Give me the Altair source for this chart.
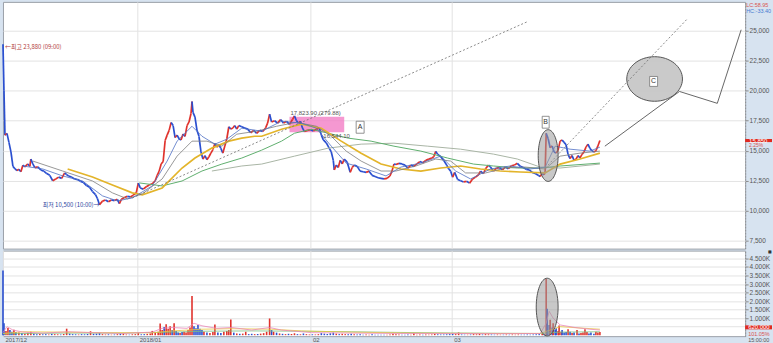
import altair as alt
import pandas as pd

W, H_PRICE, H_VOL = 746, 248, 86
RED, BLUE = "#e0322c", "#2a4fd0"

# ---------------- data ----------------
month_pos = [0, 135, 309, 451]
month_labels = ["2017/12", "2018/01", "02", "03"]
price_ticks = [7500, 10000, 12500, 15000, 17500, 20000, 22500, 25000]
vol_ticks = [500, 1000, 1500, 2000, 2500, 3000, 3500, 4000, 4500]

# (bar index, close price)
price_pts = [
    (0, 23880), (1, 20000), (2, 16300), (4, 16450), (6, 15700), (8, 14900), (10, 13700), (12, 13500),
    (14, 13350), (16, 13450), (18, 13250), (20, 13800), (22, 13650), (25, 13900), (27, 13700), (28, 14300),
    (30, 13900), (32, 13600), (35, 13650), (38, 13400), (41, 13300), (44, 13100), (47, 12950), (50, 12500),
    (53, 12650), (56, 12800), (59, 12700), (62, 13150), (64, 13000), (66, 12900), (69, 12800), (72, 12650),
    (75, 12600), (78, 12450), (81, 12350), (84, 12100), (87, 11950), (90, 11600), (93, 11350), (95, 11000),
    (97, 10500), (100, 10800), (103, 10900), (106, 10750), (109, 10900), (112, 10850), (115, 10950),
    (117, 10600), (119, 10950), (122, 11100), (125, 11200), (128, 11150), (131, 11300), (134, 11500),
    (136, 12300), (138, 11900), (141, 11800), (144, 12000), (147, 12150), (150, 12250), (153, 12500),
    (155, 12950), (157, 13300), (159, 13900), (161, 14100), (163, 15850), (165, 16300), (167, 16700),
    (169, 17350), (171, 17100), (173, 16100), (175, 16300), (177, 16000), (179, 15900), (181, 16400),
    (183, 16200), (185, 17100), (187, 17400), (189, 18100), (190, 19100), (191, 18200), (193, 17800),
    (195, 16700), (197, 16200), (199, 14900), (201, 14300), (203, 14600), (205, 14250), (207, 14500),
    (209, 14800), (211, 15100), (213, 15600), (215, 15300), (217, 15500), (219, 15200), (221, 14800),
    (223, 15400), (225, 16000), (227, 17000), (229, 16800), (231, 16900), (233, 17100), (235, 16800),
    (237, 17100), (240, 17000), (243, 16900), (246, 16800), (249, 16500), (252, 16700), (255, 16450),
    (258, 16700), (261, 16600), (264, 16900), (266, 17300), (268, 18050), (270, 17400), (273, 17500),
    (276, 17300), (279, 17600), (282, 17300), (285, 17450), (288, 17200), (291, 17600), (293, 17900),
    (295, 17500), (297, 17300), (299, 17450), (301, 16900), (303, 16600), (306, 16700), (309, 16750),
    (312, 16650), (315, 16800), (318, 16900), (320, 16300), (322, 15900), (325, 15650), (328, 15200),
    (330, 14900), (332, 14200), (333, 13400), (335, 13800), (337, 13600), (339, 14200), (341, 13900),
    (343, 14300), (346, 14050), (349, 13200), (351, 13600), (353, 13800), (356, 13700), (359, 13300),
    (362, 13250), (365, 13200), (368, 13300), (371, 12950), (374, 12850), (377, 12750), (380, 12700),
    (383, 12650), (386, 12700), (389, 12900), (391, 13300), (393, 13900), (395, 13850), (398, 13950),
    (401, 13900), (404, 13800), (407, 13550), (410, 13800), (413, 13700), (416, 13900), (419, 14100),
    (422, 14000), (425, 14200), (428, 14300), (431, 14400), (433, 14500), (435, 14950), (437, 14700),
    (440, 14500), (443, 14200), (446, 13800), (448, 13500), (450, 13300), (452, 12800), (454, 13200),
    (457, 12600), (460, 12500), (463, 12400), (466, 12450), (469, 12300), (472, 12650), (475, 12800),
    (478, 13000), (480, 13300), (483, 13100), (485, 13500), (488, 13800), (490, 13650), (493, 13300),
    (496, 13550), (499, 13600), (502, 13400), (505, 13650), (508, 13500), (511, 13750), (514, 13800),
    (517, 13950), (520, 13700), (523, 13600), (526, 13450), (529, 13400), (532, 13200), (535, 13100),
    (538, 12950), (540, 12850), (542, 13100), (544, 13000), (545, 13300), (546, 16450), (548, 16000),
    (550, 15250), (552, 15400), (554, 14900), (556, 14800), (558, 15050), (560, 15800), (562, 15900),
    (564, 15700), (566, 15500), (568, 14700), (570, 14350), (572, 14600), (574, 14200), (576, 14300),
    (578, 14600), (580, 14400), (582, 14700), (584, 14900), (586, 15300), (588, 15550), (590, 15200),
    (592, 15000), (594, 14900), (596, 15000), (598, 15400), (600, 15850),
]

# moving averages of price (bar index, price)
ma_blue = [(20, 13730), (40, 13480), (60, 12900), (80, 12480), (100, 11240), (115, 10820), (130, 11070),
           (150, 12070), (165, 14140), (175, 15800), (190, 17040), (200, 16210), (213, 15550), (225, 15960),
           (240, 16880), (260, 16630), (280, 17460), (300, 17290), (315, 16880), (330, 15380), (345, 13970),
           (365, 13480), (385, 12900), (400, 13640), (420, 13970), (440, 14550), (455, 13310), (470, 12650),
           (490, 13480), (510, 13730), (530, 13480), (545, 13640), (555, 15380), (570, 15130), (590, 14970),
           (600, 15300)]
ma_dark = [(30, 14140), (60, 13310), (90, 12480), (110, 11490), (125, 10990), (140, 11400), (160, 12650),
           (175, 14550), (190, 15800), (205, 15800), (220, 15380), (235, 16380), (255, 16630), (275, 17040),
           (295, 17370), (315, 17040), (330, 16210), (345, 14970), (360, 14140), (380, 13310), (395, 13310),
           (415, 13730), (435, 14310), (450, 14140), (465, 13150), (485, 13150), (505, 13560), (525, 13640),
           (545, 13480), (560, 14550), (580, 14800), (600, 14970)]
ma_gold = [(65, 13480), (90, 12810), (110, 12150), (130, 11490), (140, 11320), (160, 11900), (180, 13560),
           (193, 14390), (210, 15220), (227, 15800), (240, 16050), (253, 16210), (260, 16210), (280, 16790),
           (300, 17210), (320, 16880), (340, 15800), (360, 14800), (380, 13890), (400, 13480), (420, 13310),
           (440, 13560), (460, 13730), (480, 13480), (500, 13310), (520, 13230), (545, 13150), (560, 13890),
           (580, 14310), (600, 14800)]
ma_green = [(137, 12320), (160, 12070), (180, 12480), (200, 13310), (220, 13890), (240, 14390), (260, 15050),
            (280, 15800), (293, 16460), (310, 16790), (327, 16460), (347, 16050), (370, 15800), (393, 15380),
            (420, 14970), (447, 14390), (473, 13890), (493, 13730), (517, 13560), (540, 13560), (560, 13730),
            (600, 13970)]
ma_gray = [(210, 13310), (240, 13730), (260, 13890), (293, 14550), (327, 15220), (360, 15550), (393, 15630),
           (427, 15380), (460, 15130), (493, 14720), (517, 14310), (540, 13640), (560, 13560), (600, 13890)]

# drawn trend lines (bar index, price)
trend_dotted_1 = [(130, 11070), (527, 25750)]
trend_dotted_2 = [(545, 13560), (688, 26000)]
trend_solid = [(605, 15380), (680, 19940), (718, 18950), (742, 25080)]

# zone A (x from, x to, upper price, lower price)
zone_a = [(288, 343, 17823.90, 16544.10)]
# label boxes (letter, x from, x to, upper price, lower price)
letter_boxes = [("A", 355, 363, 17460, 16460), ("B", 542, 549, 17870, 16880), ("C", 650, 658, 21190, 20360)]
# ellipses (x, value)
ellipse_b_price = [(548, 14600)]
ellipse_c_price = [(655, 20980)]
ellipse_b_vol = [(547, 1650)]

# volume in thousands (bar index, volume K, direction)
vol_bars = [
    (0, 3800, 'd'), (1, 700, 'd'), (3, 250, 'u'), (5, 420, 'u'), (7, 300, 'd'), (9, 200, 'd'), (11, 320, 'u'),
    (13, 180, 'd'), (16, 150, 'u'), (19, 120, 'd'), (22, 90, 'u'), (25, 140, 'u'), (28, 200, 'u'), (31, 80, 'd'),
    (34, 60, 'd'), (37, 70, 'u'), (40, 50, 'd'), (43, 60, 'd'), (46, 40, 'u'), (49, 80, 'd'), (52, 60, 'u'),
    (55, 50, 'u'), (58, 40, 'd'), (61, 70, 'u'), (64, 380, 'u'), (67, 90, 'd'), (70, 60, 'd'), (73, 50, 'd'),
    (76, 40, 'u'), (79, 60, 'd'), (82, 50, 'd'), (85, 70, 'd'), (88, 230, 'u'), (91, 80, 'd'), (94, 90, 'd'),
    (97, 120, 'd'), (100, 60, 'u'), (103, 40, 'u'), (106, 50, 'd'), (109, 30, 'u'), (112, 40, 'd'), (115, 60, 'u'),
    (118, 90, 'd'), (121, 100, 'u'), (124, 40, 'u'), (127, 30, 'd'), (130, 50, 'u'), (133, 60, 'u'), (136, 120, 'u'),
    (139, 50, 'd'), (142, 60, 'd'), (145, 80, 'u'), (148, 100, 'u'), (150, 250, 'u'), (153, 150, 'u'),
    (156, 200, 'u'), (158, 690, 'u'), (160, 300, 'u'), (162, 480, 'd'), (164, 640, 'u'), (166, 380, 'u'),
    (168, 520, 'u'), (170, 300, 'd'), (172, 700, 'u'), (174, 250, 'd'), (176, 150, 'd'), (178, 120, 'u'),
    (180, 180, 'd'), (182, 200, 'u'), (184, 160, 'u'), (186, 300, 'u'), (188, 450, 'u'), (190, 2300, 'u'),
    (192, 520, 'd'), (194, 400, 'd'), (196, 600, 'd'), (198, 380, 'd'), (200, 300, 'd'), (202, 200, 'u'),
    (205, 150, 'd'), (208, 120, 'u'), (211, 180, 'u'), (213, 630, 'u'), (216, 150, 'd'), (219, 120, 'd'),
    (222, 200, 'u'), (225, 250, 'u'), (227, 300, 'u'), (229, 920, 'u'), (232, 150, 'd'), (235, 100, 'u'),
    (238, 80, 'd'), (241, 90, 'u'), (244, 200, 'u'), (247, 60, 'd'), (250, 80, 'd'), (253, 60, 'u'), (256, 70, 'd'),
    (259, 90, 'u'), (262, 120, 'u'), (265, 200, 'u'), (268, 980, 'u'), (270, 300, 'd'), (272, 200, 'u'),
    (275, 150, 'd'), (278, 100, 'u'), (281, 80, 'd'), (284, 60, 'u'), (287, 80, 'd'), (290, 70, 'u'),
    (293, 110, 'u'), (296, 60, 'd'), (299, 50, 'u'), (302, 100, 'd'), (305, 60, 'u'), (308, 40, 'u'),
    (311, 50, 'd'), (314, 40, 'u'), (317, 60, 'u'), (320, 120, 'd'), (323, 90, 'd'), (326, 70, 'd'),
    (329, 110, 'd'), (332, 150, 'd'), (335, 90, 'u'), (338, 60, 'd'), (341, 80, 'u'), (344, 60, 'u'),
    (347, 50, 'd'), (350, 90, 'd'), (353, 60, 'u'), (356, 40, 'd'), (359, 50, 'd'), (362, 30, 'd'), (365, 40, 'u'),
    (368, 30, 'u'), (371, 50, 'd'), (374, 30, 'd'), (377, 30, 'd'), (380, 20, 'd'), (383, 30, 'd'), (386, 25, 'u'),
    (389, 40, 'u'), (392, 90, 'u'), (395, 50, 'u'), (398, 40, 'u'), (401, 30, 'd'), (404, 30, 'd'), (407, 40, 'd'),
    (410, 30, 'u'), (413, 120, 'u'), (416, 30, 'u'), (419, 40, 'u'), (422, 30, 'd'), (425, 40, 'u'), (428, 30, 'u'),
    (431, 40, 'u'), (434, 80, 'u'), (437, 50, 'd'), (440, 40, 'd'), (443, 40, 'd'), (446, 50, 'd'), (449, 60, 'd'),
    (452, 90, 'd'), (455, 60, 'u'), (458, 160, 'u'), (461, 40, 'd'), (464, 30, 'd'), (467, 30, 'u'), (470, 40, 'd'),
    (473, 60, 'u'), (476, 50, 'u'), (479, 70, 'u'), (482, 40, 'd'), (485, 60, 'u'), (488, 50, 'u'), (491, 40, 'd'),
    (494, 30, 'd'), (497, 40, 'u'), (500, 30, 'u'), (503, 30, 'd'), (506, 40, 'u'), (509, 30, 'd'), (512, 40, 'u'),
    (515, 30, 'u'), (518, 40, 'u'), (521, 30, 'd'), (524, 30, 'd'), (527, 40, 'd'), (530, 30, 'd'), (533, 40, 'd'),
    (536, 50, 'd'), (539, 60, 'd'), (542, 80, 'u'), (544, 60, 'd'), (546, 3300, 'u'), (547, 1550, 'd'),
    (549, 600, 'd'), (550, 900, 'u'), (552, 450, 'd'), (553, 700, 'u'), (555, 300, 'd'), (556, 400, 'd'),
    (558, 250, 'u'), (559, 570, 'u'), (561, 200, 'u'), (562, 300, 'd'), (564, 150, 'd'), (566, 180, 'd'),
    (568, 350, 'u'), (570, 200, 'd'), (572, 120, 'u'), (574, 150, 'd'), (577, 300, 'u'), (579, 100, 'd'),
    (581, 120, 'u'), (583, 150, 'u'), (585, 350, 'u'), (587, 180, 'u'), (589, 100, 'd'), (591, 150, 'd'),
    (594, 90, 'd'), (596, 200, 'u'), (598, 150, 'u'), (600, 180, 'u'),
]
vma_pink = [(0, 150), (4, 500), (10, 300), (20, 180), (40, 120), (65, 200), (90, 150), (120, 100), (150, 180),
            (160, 400), (170, 450), (185, 400), (192, 700), (200, 550), (215, 400), (230, 450), (250, 300),
            (268, 450), (280, 300), (310, 150), (350, 120), (400, 100), (450, 100), (500, 90), (540, 100),
            (546, 700), (549, 1400), (553, 1000), (560, 600), (575, 450), (590, 350), (600, 300)]
vma_yellow = [(0, 100), (20, 200), (60, 180), (100, 150), (150, 140), (170, 250), (200, 350), (230, 380),
              (270, 350), (300, 250), (350, 180), (400, 130), (450, 110), (500, 100), (540, 100), (550, 300),
              (560, 500), (580, 420), (600, 350)]
vma_green = [(0, 80), (60, 120), (120, 120), (170, 180), (200, 230), (250, 250), (300, 230), (350, 200),
             (400, 160), (450, 130), (500, 110), (540, 100), (560, 180), (600, 200)]

price_notes = [(2, 23680, "←최고 23,880 (09:00)", "left", "#b23b3b"),
               (97, 10500, "최저 10,500 (10:00)→", "right", "#2b3f9e")]
zone_notes = [(289, 17823.90, "17,823.90 (279.88)", "bottom"), (322, 16544.10, "16,544.10", "top")]
last_price = 15850
last_change = "2.25%"
last_volume_label = "620,000"
last_volume_at = 460
volume_ratio = "101.05%"
corner_texts = [("LC:58.95", "#d9534f"), ("HC:-33.40", "#4a7bd0")]
session_close = "15:00:00"

# ---------------- helpers ----------------
def ellipse_path(rx, ry):
    k = 0.5523
    a, b = rx, ry
    return (f"M{-a},0 C{-a},{-k*b:.4f} {-k*a:.4f},{-b} 0,{-b} "
            f"C{k*a:.4f},{-b} {a},{-k*b:.4f} {a},0 "
            f"C{a},{k*b:.4f} {k*a:.4f},{b} 0,{b} "
            f"C{-k*a:.4f},{b} {-a},{k*b:.4f} {-a},0 Z")


def df(points, cols):
    return pd.DataFrame(points, columns=cols)


xs = alt.Scale(domain=[0, W], nice=False, zero=False)
ys_p = alt.Scale(domain=[6845, 27404], nice=False, zero=False)
ys_v = alt.Scale(domain=[-58, 4962], nice=False, zero=False)

axis_style = dict(labelFontSize=6.5, labelColor="#555", labelFont="Liberation Sans", title=None)

px_axis = alt.Axis(values=month_pos[1:], grid=True, gridColor="#e2e2e2", labels=False, ticks=False,
                   domain=False, minExtent=0, maxExtent=0, title=None)
py_axis = alt.Axis(orient="right", values=price_ticks, labelExpr="format(datum.value, ',')", grid=True,
                   gridColor="#e3e3e3", tickColor="#8a8a8a", tickSize=3, labelPadding=1, domain=True,
                   domainColor="#8a8a8a", domainDash=[1, 2], minExtent=27, maxExtent=27, zindex=0, **axis_style)

label_expr = " : ".join(f"datum.value == {p} ? '{l}'" for p, l in zip(month_pos, month_labels)) + " : ''"
vx_axis = alt.Axis(values=month_pos, grid=True, gridColor="#e2e2e2", ticks=False, domain=False,
                   labelExpr=label_expr, labelAlign="left", labelBaseline="top", labelPadding=0,
                   labelOffset=2, labelOverlap=False, labelFlush=False, labelBound=False,
                   minExtent=9, maxExtent=9, labelFontSize=6, labelColor="#555",
                   labelFont="Liberation Sans", title=None)
vy_axis = alt.Axis(orient="right", values=vol_ticks, grid=True, gridColor="#e3e3e3",
                   labelExpr=f"datum.value == {vol_ticks[0]} ? '' : replace(format(datum.value, ','), ',', '.') + 'K'",
                   tickColor="#8a8a8a", tickSize=3, labelPadding=1, domain=True, domainColor="#8a8a8a",
                   domainDash=[1, 2], minExtent=27, maxExtent=27, zindex=0, **axis_style)


def PX(f="x"):
    return alt.X(f"{f}:Q", scale=xs, axis=px_axis)


def PY(f="p"):
    return alt.Y(f"{f}:Q", scale=ys_p, axis=py_axis)


def VX(f="x"):
    return alt.X(f"{f}:Q", scale=xs, axis=vx_axis)


def VY(f="v"):
    return alt.Y(f"{f}:Q", scale=ys_v, axis=vy_axis)


dir_color = alt.Color("d:N", scale=alt.Scale(domain=["u", "d"], range=[RED, BLUE]), legend=None)

# ---------------- price panel ----------------
seg_rows = []
for (x0, p0), (x1, p1) in zip(price_pts[:-1], price_pts[1:]):
    seg_rows.append({"x": x0, "p": p0, "x2": x1, "p2": p1, "d": "u" if p1 >= p0 else "d"})
seg_df = pd.DataFrame(seg_rows)

zone = alt.Chart(df(zone_a, ["x", "x2", "p", "p2"])).mark_rect(
    fill="#f27ec6", opacity=0.8).encode(x=PX(), x2="x2:Q", y=PY(), y2="p2:Q")

ell_c = alt.Chart(df(ellipse_c_price, ["x", "p"])).mark_point(
    shape=ellipse_path(1, 0.80), size=56 * 56, filled=True, fill="#c4c4c4", fillOpacity=0.9,
    stroke="#555", strokeWidth=1, strokeOpacity=1, opacity=1).encode(x=PX(), y=PY())

candles = alt.Chart(seg_df).mark_rule(strokeWidth=1.7).encode(
    x=PX(), y=PY(), x2="x2:Q", y2="p2:Q", color=dir_color)


def ma_layer(points, color, width):
    return alt.Chart(df(points, ["x", "p"])).mark_line(color=color, strokeWidth=width).encode(x=PX(), y=PY())


mas = [ma_layer(ma_gray, "#a8b4a4", 1.0), ma_layer(ma_green, "#5fae6e", 1.0),
       ma_layer(ma_gold, "#e3b42a", 1.7), ma_layer(ma_dark, "#7d7d7d", 0.8),
       ma_layer(ma_blue, "#4e6fc4", 0.8)]

dot1 = alt.Chart(df(trend_dotted_1, ["x", "p"])).mark_line(
    color="#6e6e6e", strokeWidth=0.8, strokeDash=[2, 2]).encode(x=PX(), y=PY())
dot2 = alt.Chart(df(trend_dotted_2, ["x", "p"])).mark_line(
    color="#6e6e6e", strokeWidth=0.8, strokeDash=[2, 2]).encode(x=PX(), y=PY())
solid = alt.Chart(df(trend_solid, ["x", "p"])).mark_line(
    color="#555", strokeWidth=0.9).encode(x=PX(), y=PY())

ell_b = alt.Chart(df(ellipse_b_price, ["x", "p"])).mark_point(
    shape=ellipse_path(0.385, 1), size=52 * 52, filled=True, fill="#9a9a9a", fillOpacity=0.55,
    stroke="#555", strokeWidth=1, strokeOpacity=1, opacity=1).encode(x=PX(), y=PY())

box_df = pd.DataFrame(letter_boxes, columns=["t", "x", "x2", "p", "p2"])
box_df["xc"] = (box_df["x"] + box_df["x2"]) / 2
box_df["pc"] = (box_df["p"] + box_df["p2"]) / 2
boxes = alt.Chart(box_df).mark_rect(fill="white", stroke="#777", strokeWidth=0.8).encode(
    x=PX(), x2="x2:Q", y=PY(), y2="p2:Q")
box_text = alt.Chart(box_df).mark_text(fontSize=7, color="#333", font="Liberation Sans").encode(
    x=PX("xc"), y=PY("pc"), text="t:N")

note_layers = []
for x, p, t, al, col in price_notes:
    note_layers.append(alt.Chart(pd.DataFrame({"x": [x], "p": [p], "t": [t]})).mark_text(
        align=al, baseline="middle", fontSize=6, color=col, font="Noto Sans CJK KR").encode(
        x=PX(), y=PY(), text="t:N"))
for x, p, t, bl in zone_notes:
    note_layers.append(alt.Chart(pd.DataFrame({"x": [x], "p": [p], "t": [t]})).mark_text(
        align="left", baseline=bl, dy=-1 if bl == "bottom" else 1, fontSize=6, color="#555",
        font="Liberation Sans").encode(x=PX(), y=PY(), text="t:N"))

last_df = pd.DataFrame({"p": [last_price], "t": [f"{last_price:,}"]})
last_box = alt.Chart(last_df).mark_point(
    shape="M-1,-0.115 L1,-0.115 L1,0.115 L-1,0.115 Z", size=27 * 27, filled=True, fill="#e02a20",
    opacity=1).encode(x=alt.value(W + 13.5), y=PY())
last_txt = alt.Chart(last_df).mark_text(fontSize=6, color="white", align="left", baseline="middle",
                                        font="Liberation Sans").encode(x=alt.value(W + 4), y=PY(), text="t:N")
chg_txt = alt.Chart(pd.DataFrame({"t": [last_change]})).mark_text(
    fontSize=5, color="#d9534f", align="left", baseline="middle", font="Liberation Sans").encode(
    x=alt.value(W + 4), y=alt.value(144.2), text="t:N")
corner_layers = [alt.Chart(pd.DataFrame({"t": [t]})).mark_text(
    fontSize=5.5, color=c, align="left", baseline="middle", font="Liberation Sans").encode(
    x=alt.value(W + 1), y=alt.value(3 + 6 * i), text="t:N") for i, (t, c) in enumerate(corner_texts)]

view_bg = alt.ViewBackground(fill="white", stroke="#9aa0a8", strokeWidth=1)

price = alt.layer(zone, ell_c, candles, *mas, dot1, dot2, solid, ell_b, boxes, box_text,
                  *note_layers, last_box, last_txt, chg_txt, *corner_layers).properties(
    width=W, height=H_PRICE, view=view_bg)

# ---------------- volume panel ----------------
vol_df = df(vol_bars, ["x", "v", "d"])
bars = alt.Chart(vol_df).mark_rule(strokeWidth=1.6).encode(
    x=VX(), y=VY(), y2=alt.datum(0), color=dir_color)


def vma_layer(points, color):
    return alt.Chart(df(points, ["x", "v"])).mark_line(color=color, strokeWidth=0.8).encode(x=VX(), y=VY())


vmas = [vma_layer(vma_green, "#7cc07f"), vma_layer(vma_yellow, "#e8c840"), vma_layer(vma_pink, "#ea86b8")]

ell_v = alt.Chart(df(ellipse_b_vol, ["x", "v"])).mark_point(
    shape=ellipse_path(0.379, 1), size=58 * 58, filled=True, fill="#9a9a9a", fillOpacity=0.55,
    stroke="#555", strokeWidth=1, strokeOpacity=1, opacity=1).encode(x=VX(), y=VY())

lv_df = pd.DataFrame({"v": [last_volume_at], "t": [last_volume_label]})
lv_box = alt.Chart(lv_df).mark_point(
    shape="M-1,-0.15 L1,-0.15 L1,0.15 L-1,0.15 Z", size=27 * 27, filled=True, fill="#e02a20",
    opacity=1).encode(x=alt.value(W + 13.5), y=VY())
lv_txt = alt.Chart(lv_df).mark_text(fontSize=6, color="white", align="left", baseline="middle",
                                    font="Liberation Sans").encode(x=alt.value(W + 3), y=VY(), text="t:N")
ratio_txt = alt.Chart(pd.DataFrame({"t": [volume_ratio]})).mark_text(
    fontSize=5.5, color="#d9534f", align="left", baseline="middle", font="Liberation Sans").encode(
    x=alt.value(W + 3), y=alt.value(H_VOL - 2.5), text="t:N")
close_txt = alt.Chart(pd.DataFrame({"t": [session_close]})).mark_text(
    fontSize=5.5, color="#555", align="left", baseline="middle", font="Liberation Sans").encode(
    x=alt.value(W + 3), y=alt.value(H_VOL + 4), text="t:N")
mark_sq = alt.Chart(pd.DataFrame({"t": ["■"]})).mark_text(
    fontSize=4, color="#333", align="left", baseline="middle", font="DejaVu Sans").encode(
    x=alt.value(W + 23), y=alt.value(1.5), text="t:N")

volume = alt.layer(bars, *vmas, ell_v, lv_box, lv_txt, ratio_txt, close_txt, mark_sq).properties(
    width=W, height=H_VOL, view=view_bg)

chart = alt.vconcat(price, volume, spacing=0).properties(
    background="#d7e3f0", padding=0
).configure(font="Liberation Sans").configure_view(fill="white", stroke="#9aa0a8", strokeWidth=1)

chart.save("out.html", embed_options={"renderer": "svg", "actions": False})
